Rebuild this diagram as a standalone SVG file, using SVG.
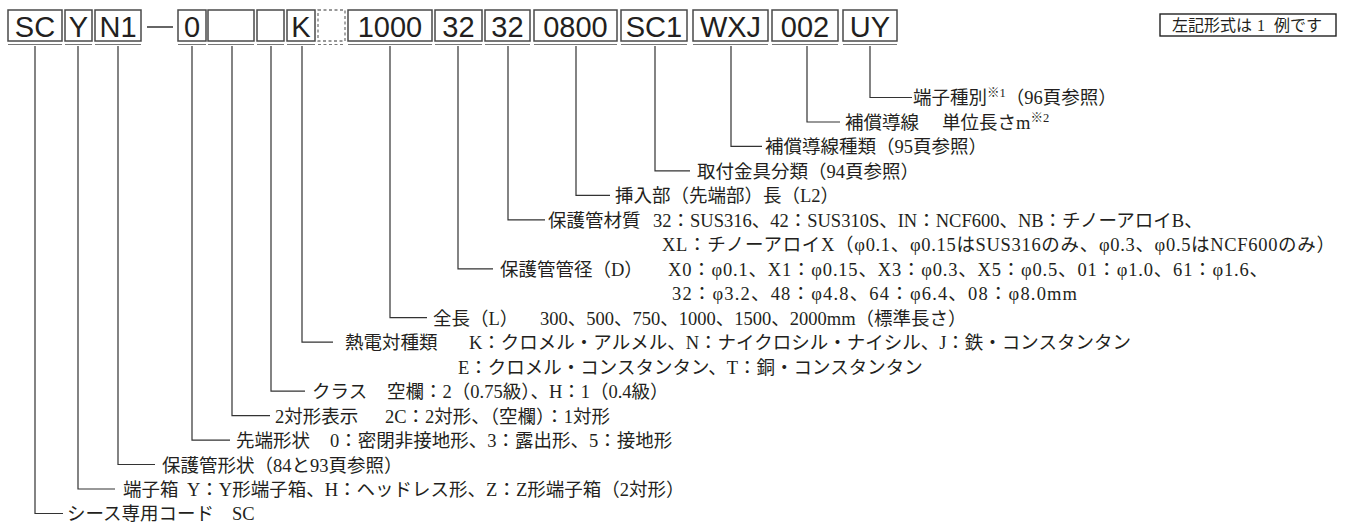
<svg xmlns="http://www.w3.org/2000/svg" width="1354" height="523" viewBox="0 0 1354 523">
<style>
.bx{fill:#fff;stroke:#4a4a4a;stroke-width:1.5}
.dbx{fill:none;stroke:#777;stroke-width:1.3;stroke-dasharray:3 2.5}
.ul{stroke:#777;stroke-width:1}
.code{font-family:"Liberation Sans",Arial,sans-serif;font-size:29px;fill:#231f20;text-anchor:middle}
.t{font-family:"Liberation Serif","Noto Sans CJK JP",serif;font-size:18.5px;fill:#231f20}
.sup{font-size:12.5px}
.c{fill:none;stroke:#333;stroke-width:1.2}
.note{font-family:"Liberation Serif","Noto Sans CJK JP",serif;font-size:16px;fill:#231f20}
</style>
<rect width="1354" height="523" fill="#fff"/>
<g id="codes">
<g id="box-SC"><rect class="bx" x="8" y="10" width="54" height="31"/><line class="ul" x1="8" y1="44.5" x2="62" y2="44.5"/><text class="code" x="35" y="37">SC</text></g>
<g id="box-Y"><rect class="bx" x="65" y="10" width="27" height="31"/><line class="ul" x1="65" y1="44.5" x2="92" y2="44.5"/><text class="code" x="78.5" y="37">Y</text></g>
<g id="box-N1"><rect class="bx" x="95" y="10" width="46" height="31"/><line class="ul" x1="95" y1="44.5" x2="141" y2="44.5"/><text class="code" x="118" y="37">N1</text></g>
<g id="dash"><line x1="147" y1="27" x2="173" y2="27" stroke="#333" stroke-width="1.5"/></g>
<g id="box-0"><rect class="bx" x="178" y="10" width="28" height="31"/><line class="ul" x1="178" y1="44.5" x2="206" y2="44.5"/><text class="code" x="192" y="37">0</text></g>
<g id="box-blank1"><rect class="bx" x="208" y="10" width="46" height="31"/><line class="ul" x1="208" y1="44.5" x2="254" y2="44.5"/></g>
<g id="box-blank2"><rect class="bx" x="257" y="10" width="27" height="31"/><line class="ul" x1="257" y1="44.5" x2="284" y2="44.5"/></g>
<g id="box-K"><rect class="bx" x="287" y="10" width="28" height="31"/><line class="ul" x1="287" y1="44.5" x2="315" y2="44.5"/><text class="code" x="301" y="37">K</text></g>
<g id="box-dashed"><rect class="dbx" x="318" y="10" width="27" height="31"/><line class="ul" x1="318" y1="44.5" x2="345" y2="44.5" stroke-dasharray="3 2.5"/></g>
<g id="box-1000"><rect class="bx" x="348" y="10" width="84" height="31"/><line class="ul" x1="348" y1="44.5" x2="432" y2="44.5"/><text class="code" x="390" y="37">1000</text></g>
<g id="box-32a"><rect class="bx" x="435" y="10" width="47" height="31"/><line class="ul" x1="435" y1="44.5" x2="482" y2="44.5"/><text class="code" x="458.5" y="37">32</text></g>
<g id="box-32b"><rect class="bx" x="485" y="10" width="45" height="31"/><line class="ul" x1="485" y1="44.5" x2="530" y2="44.5"/><text class="code" x="507.5" y="37">32</text></g>
<g id="box-0800"><rect class="bx" x="534" y="10" width="83" height="31"/><line class="ul" x1="534" y1="44.5" x2="617" y2="44.5"/><text class="code" x="575.5" y="37">0800</text></g>
<g id="box-SC1"><rect class="bx" x="621" y="10" width="66" height="31"/><line class="ul" x1="621" y1="44.5" x2="687" y2="44.5"/><text class="code" x="654" y="37">SC1</text></g>
<g id="box-WXJ"><rect class="bx" x="693" y="10" width="75" height="31"/><line class="ul" x1="693" y1="44.5" x2="768" y2="44.5"/><text class="code" x="730.5" y="37">WXJ</text></g>
<g id="box-002"><rect class="bx" x="772" y="10" width="66" height="31"/><line class="ul" x1="772" y1="44.5" x2="838" y2="44.5"/><text class="code" x="805" y="37">002</text></g>
<g id="box-UY"><rect class="bx" x="843" y="10" width="54" height="31"/><line class="ul" x1="843" y1="44.5" x2="897" y2="44.5"/><text class="code" x="870" y="37">UY</text></g>
</g>
<g id="note"><rect x="1160" y="14" width="176" height="22" fill="#fff" stroke="#222" stroke-width="1.4"/><text class="note" x="1172" y="31">左記形式は<tspan x="1257">1</tspan><tspan x="1274">例です</tspan></text></g>
<g id="connectors">
<path class="c" d="M870 46V97.5H912"/>
<path class="c" d="M807 46V122H840"/>
<path class="c" d="M731 46V146.4H762"/>
<path class="c" d="M655 46V170.9H690"/>
<path class="c" d="M576 46V195.4H610"/>
<path class="c" d="M508 46V219.8H545"/>
<path class="c" d="M458 46V268.8H493"/>
<path class="c" d="M390 46V317.7H427"/>
<path class="c" d="M302 46V342.2H333"/>
<path class="c" d="M271 46V391.1H305"/>
<path class="c" d="M232 46V415.6H270"/>
<path class="c" d="M192 46V440.1H230"/>
<path class="c" d="M118 46V464.5H155"/>
<path class="c" d="M78 46V489H115"/>
<path class="c" d="M35 46V513.5H63"/>
</g>
<g id="labels">
<g id="lbl-UY"><text class="t" x="913" y="104">端子種別<tspan class="sup" dy="-7">※1</tspan><tspan dy="7">（96頁参照）</tspan></text></g>
<g id="lbl-002"><text class="t" x="845" y="128.5">補償導線</text><text class="t" x="942" y="128.5">単位長さm<tspan class="sup" dy="-7">※2</tspan></text></g>
<g id="lbl-WXJ"><text class="t" x="765" y="153">補償導線種類（95頁参照）</text></g>
<g id="lbl-SC1"><text class="t" x="697" y="177.5">取付金具分類（94頁参照）</text></g>
<g id="lbl-0800"><text class="t" x="615" y="202">挿入部（先端部）長（L2）</text></g>
<g id="lbl-32b"><text class="t" x="548" y="226.5">保護管材質</text><text class="t" x="653" y="226.5">32：SUS316、42：SUS310S、IN：NCF600、NB：チノーアロイB、</text><text class="t" x="662" y="251" textLength="673" lengthAdjust="spacing">XL：チノーアロイX（φ0.1、φ0.15はSUS316のみ、φ0.3、φ0.5はNCF600のみ）</text></g>
<g id="lbl-32a"><text class="t" x="500" y="275.5">保護管管径（D）</text><text class="t" x="668" y="275.5" textLength="600" lengthAdjust="spacing">X0：φ0.1、X1：φ0.15、X3：φ0.3、X5：φ0.5、01：φ1.0、61：φ1.6、</text><text class="t" x="672" y="300" textLength="405" lengthAdjust="spacing">32：φ3.2、48：φ4.8、64：φ6.4、08：φ8.0mm</text></g>
<g id="lbl-1000"><text class="t" x="433" y="324.5">全長（L）</text><text class="t" x="540" y="324.5">300、500、750、1000、1500、2000mm（標準長さ）</text></g>
<g id="lbl-K"><text class="t" x="345" y="349">熱電対種類</text><text class="t" x="469" y="349">K：クロメル・アルメル、N：ナイクロシル・ナイシル、J：鉄・コンスタンタン</text><text class="t" x="458" y="373.5">E：クロメル・コンスタンタン、T：銅・コンスタンタン</text></g>
<g id="lbl-blank2"><text class="t" x="312" y="398">クラス</text><text class="t" x="387" y="398">空欄：2（0.75級）、H：1（0.4級）</text></g>
<g id="lbl-blank1"><text class="t" x="275" y="422.5">2対形表示</text><text class="t" x="385" y="422.5">2C：2対形、（空欄）：1対形</text></g>
<g id="lbl-0"><text class="t" x="236" y="447">先端形状</text><text class="t" x="330" y="447">0：密閉非接地形、3：露出形、5：接地形</text></g>
<g id="lbl-N1"><text class="t" x="162" y="471.5">保護管形状（84と93頁参照）</text></g>
<g id="lbl-Y"><text class="t" x="123" y="496">端子箱</text><text class="t" x="187" y="496">Y：Y形端子箱、H：ヘッドレス形、Z：Z形端子箱（2対形）</text></g>
<g id="lbl-SC"><text class="t" x="67" y="520">シース専用コード</text><text class="t" x="232" y="520">SC</text></g>
</g>
</svg>
